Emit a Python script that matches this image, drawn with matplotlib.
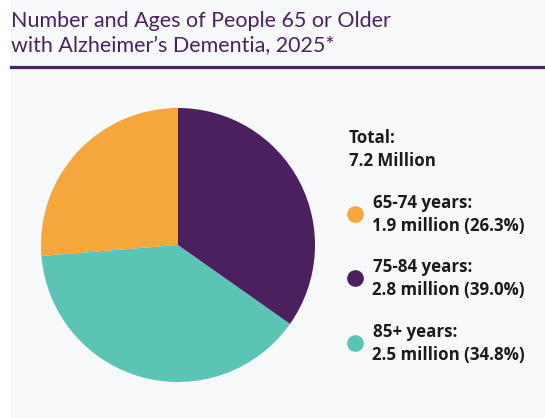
import matplotlib
matplotlib.use("Agg")
import matplotlib.pyplot as plt
from matplotlib.patches import Rectangle

# data
groups = ["65-74 years:", "75-84 years:", "85+ years:"]
millions = [1.9, 2.8, 2.5]
percents = [26.3, 39.0, 34.8]
colors = ["#F6A73C", "#4A205F", "#5BC4B5"]
total = 7.2
# slice sizes as drawn in the reference (counterclockwise from top: orange, teal, purple)
drawn_order = [0, 2, 1]
drawn_shares = [26.3, 39.0, 34.8]

W, H = 545, 418
fig = plt.figure(figsize=(W / 100, H / 100), dpi=100)
fig.patch.set_facecolor("white")
fig.patches.append(Rectangle((11 / W, 0), 1, 1, transform=fig.transFigure,
                             facecolor="#F8F9FB", edgecolor="none", zorder=-5))

def fx(px):
    return px / W

def fy(py):
    return 1 - py / H

# title
title_color = "#4A235F"
fig.text(fx(11), fy(27), "Number and Ages of People 65 or Older", fontsize=15.5,
         family="Lato", color=title_color, va="baseline", ha="left")
fig.text(fx(11), fy(52), "with Alzheimer\u2019s Dementia, 2025*", fontsize=15.5,
         family="Lato", color=title_color, va="baseline", ha="left")
fig.add_artist(plt.Line2D([fx(11), 1], [fy(67), fy(67)], color=title_color,
                          linewidth=2.3, transform=fig.transFigure))

# pie
ax = fig.add_axes([fx(41), 1 - 382 / H, 274 / W, 274 / H])
ax.pie(drawn_shares, colors=[colors[i] for i in drawn_order], startangle=90,
       counterclock=True, radius=1)
ax.set_xlim(-1, 1)
ax.set_ylim(-1, 1)
ax.set_aspect("equal")

# legend / annotations
txt = "#1B1B1B"
font = "Open Sans"
fs = 12.2
fig.text(fx(349), fy(138), "Total:", fontsize=fs, weight="bold", family=font,
         color=txt, va="center")
fig.text(fx(349), fy(161), f"{total} Million", fontsize=fs, weight="bold",
         family=font, color=txt, va="center")

ys = [203, 267, 332]
for i, (g, m, p) in enumerate(zip(groups, millions, percents)):
    y = ys[i]
    fig.text(fx(373), fy(y), g, fontsize=fs, weight="bold", family=font,
             color=txt, va="center")
    fig.text(fx(372), fy(y + 23), f"{m} million ({p}%)", fontsize=fs,
             weight="bold", family=font, color=txt, va="center")
    fig.add_artist(plt.Line2D([fx(355)], [fy(y + 11)], marker="o", markersize=11,
                              color=colors[i], linestyle="none",
                              transform=fig.transFigure))

fig.savefig("out.png", dpi=100, facecolor=fig.get_facecolor())
